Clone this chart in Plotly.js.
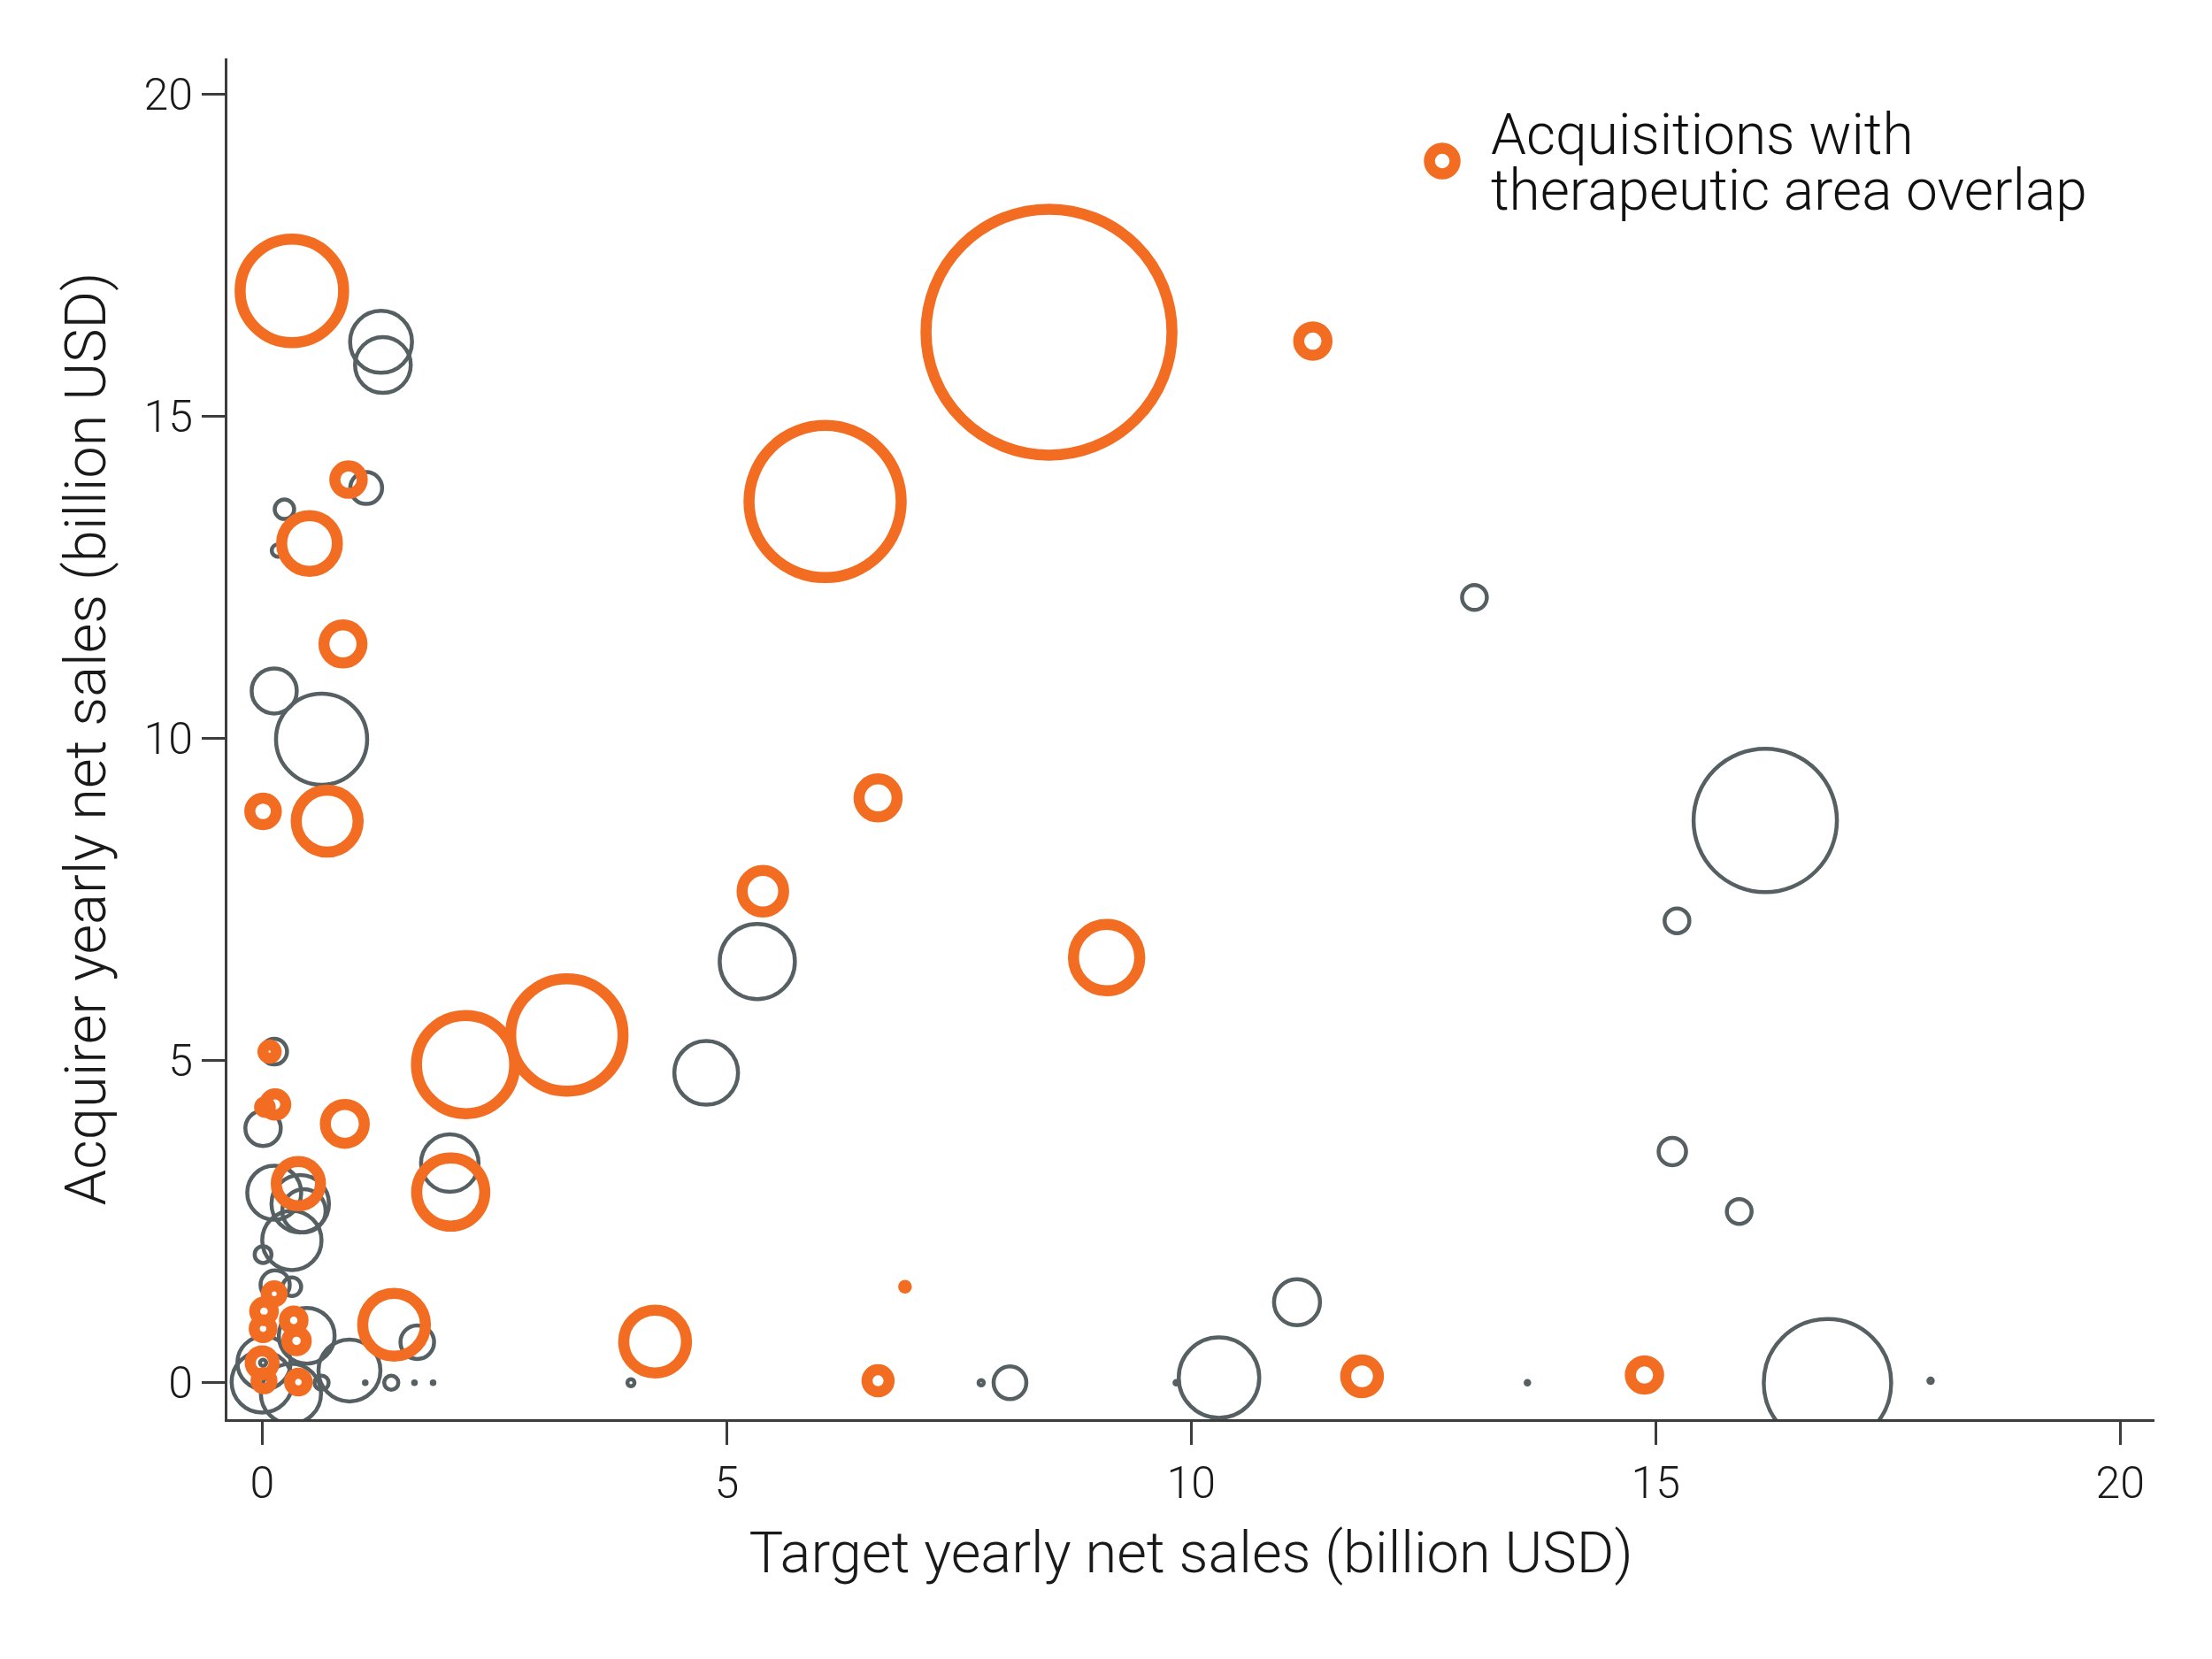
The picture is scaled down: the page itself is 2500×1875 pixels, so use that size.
<!DOCTYPE html>
<html>
<head>
<meta charset="utf-8">
<script src="https://cdn.plot.ly/plotly-3.0.1.min.js"></script>
<style>
  html, body { margin: 0; padding: 0; background: #fff; }
  #plot { width: 2500px; height: 1875px; }
</style>
</head>
<body>
<div id="plot"></div>
<script>
// Acquisitions with therapeutic area overlap (orange)
let overlap_target = [0.32, 8.47, 6.06, 11.31, 0.93, 0.51, 0.87, 0.01, 0.70, 6.63, 5.39, 9.09,
  3.28, 2.19, 0.08, 0.14, 0.03, 0.89, 0.39, 2.03, 1.42, 4.23, 6.92, 6.63, 11.84, 14.88,
  0.13, 0.02, 0.34, 0.01, 0.37, 0.00, 0.02, 0.39]
let overlap_acquirer = [16.95, 16.31, 13.68, 16.17, 14.02, 13.03, 11.47, 8.87, 8.72, 9.08, 7.63, 6.60,
  5.40, 4.94, 5.14, 4.32, 4.28, 4.02, 3.09, 2.96, 0.90, 0.64, 1.49, 0.03, 0.10, 0.12,
  1.38, 1.11, 0.97, 0.84, 0.65, 0.31, 0.03, 0.01]
let overlap_bubble = [117, 278, 172, 32, 31, 63, 43, 30, 70, 43, 47, 75,
  127, 111, 15, 24, 12, 44, 50, 77, 71, 71, 3, 25, 37, 32,
  18, 21, 21, 20, 22, 27, 18, 20]

// Other acquisitions (grey)
let other_target = [1.28, 1.30, 1.12, 0.24, 0.17, 13.05, 0.13, 0.64, 16.18, 15.23, 5.33, 4.78,
  0.13, 0.01, 2.02, 0.13, 0.41, 0.45, 0.32, 0.01, 0.14, 0.32, 0.48, 1.67, 0.94, 0.31,
  0.00, 0.02, 0.01, 0.64, 1.39, 1.11, 1.64, 1.84, 3.97, 7.74, 8.05, 9.84, 10.30, 11.14,
  13.62, 16.85, 17.96, 15.18, 15.90]
let other_acquirer = [16.16, 15.80, 13.89, 13.56, 12.92, 12.19, 10.74, 9.99, 8.73, 7.17, 6.54, 4.81,
  5.14, 3.95, 3.41, 2.95, 2.78, 2.67, 2.21, 1.99, 1.52, 1.49, 0.73, 0.63, 0.19, -0.17,
  0.01, 0.31, 0.31, 0.00, 0.00, 0.00, 0.00, 0.00, 0.00, 0.00, 0.00, 0.00, 0.08, 1.25,
  0.00, 0.00, 0.03, 3.59, 2.66]
let other_bubble = [70, 63, 36, 22, 14, 28, 51, 103, 162, 28, 85, 72,
  29, 40, 65, 61, 65, 49, 67, 19, 33, 21, 63, 38, 70, 68,
  69, 60, 7, 16, 16, 3, 3, 3, 8, 6, 37, 4, 91, 52,
  4, 144, 5, 31, 28]

let x_ticks = [0, 5, 10, 15, 20]
let y_ticks = [0, 5, 10, 15, 20]

const ORANGE = '#f26d22'
const GREY = '#566063'
const AXIS = '#3d3d3d'
const FONT = 'Roboto, "Open Sans", sans-serif'

let plot_div = document.getElementById('plot')

// Bubbles smaller than the stroke are drawn as solid dots of the same
// outer size (a thick stroke on a tiny circle leaves a hole in Chrome)
function bubbles(name, x, y, sizes, color, width) {
  let small = s => s < width
  return {
    name: name,
    x: x,
    y: y,
    type: 'scatter',
    mode: 'markers',
    showlegend: false,
    hoverinfo: 'x+y',
    marker: {
      size: sizes.map(s => small(s) ? (s + width) / 2 : s),
      sizemode: 'diameter',
      opacity: 1,
      color: 'rgba(0,0,0,0)',
      line: {color: color, width: sizes.map(s => small(s) ? (s + width) / 2 : width)}
    }
  }
}

// grey first so the orange rings sit on top
let data = [
  bubbles('Other acquisitions', other_target, other_acquirer, other_bubble, GREY, 4.5),
  bubbles('Acquisitions with therapeutic area overlap', overlap_target, overlap_acquirer, overlap_bubble, ORANGE, 12.5)
]

function axis_style(range, ticks, title, standoff) {
  return {
    range: range,
    tickvals: ticks,
    ticktext: ticks.map(String),
    showgrid: false,
    zeroline: false,
    showline: true,
    linecolor: AXIS,
    linewidth: 3,
    ticks: 'outside',
    ticklen: 26,
    tickwidth: 3,
    tickcolor: AXIS,
    tickfont: {family: FONT, size: 50, weight: 300, color: '#1a1a1a'},
    title: {
      text: title,
      standoff: standoff,
      font: {family: FONT, size: 65, weight: 300, color: '#1a1a1a'}
    },
    automargin: false
  }
}

let layout = {
  width: 2500,
  height: 1875,
  margin: {l: 257, r: 65, t: 66, b: 271},
  paper_bgcolor: '#ffffff',
  plot_bgcolor: '#ffffff',
  showlegend: false,
  xaxis: axis_style([-0.374, 20.37], x_ticks, 'Target yearly net sales (billion USD)', 28),
  yaxis: axis_style([-0.566, 20.56], y_ticks, 'Acquirer yearly net sales (billion USD)', 22),
  // hand-made legend key: ring + two text lines
  shapes: [{
    type: 'circle',
    xref: 'paper', yref: 'paper',
    xsizemode: 'pixel', ysizemode: 'pixel',
    xanchor: 0.6304, yanchor: 0.9246,
    x0: -14.5, x1: 14.5, y0: -14.5, y1: 14.5,
    line: {color: ORANGE, width: 12.5}
  }],
  annotations: [
    {
      text: 'Acquisitions with',
      xref: 'paper', yref: 'paper',
      x: 0.6548, y: 0.9440, xanchor: 'left', yanchor: 'middle',
      showarrow: false,
      font: {family: FONT, size: 64, weight: 300, color: '#111'}
    },
    {
      text: 'therapeutic area overlap',
      xref: 'paper', yref: 'paper',
      x: 0.6548, y: 0.9030, xanchor: 'left', yanchor: 'middle',
      showarrow: false,
      font: {family: FONT, size: 64, weight: 300, color: '#111'}
    }
  ]
}

Plotly.newPlot(plot_div, data, layout, {displayModeBar: false, staticPlot: true})
</script>
</body>
</html>
